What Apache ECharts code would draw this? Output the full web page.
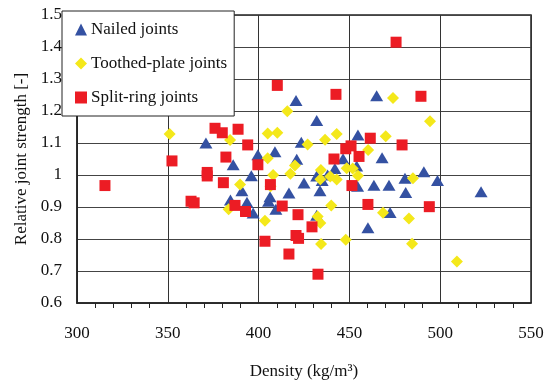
<!DOCTYPE html>
<html>
<head>
<meta charset="utf-8">
<script src="https://cdn.jsdelivr.net/npm/echarts@6/dist/echarts.min.js"></script>
<style>
  html, body { margin: 0; padding: 0; background: #fff; }
  #chart { width: 550px; height: 385px; }
</style>
</head>
<body>
<div id="chart"></div>
<script>
// density (kg/m3), relative joint strength [-]
var nailedPts = [
    [371, 1.10], [384.5, 0.922], [386, 1.032], [390.8, 0.951], [393.6, 0.915],
    [396, 0.998], [397, 0.881], [399.6, 1.063], [405.5, 0.918], [406.3, 0.932],
    [409, 1.073], [409.5, 0.893], [416.7, 0.944], [420.6, 1.233], [421, 1.049],
    [423.5, 1.102], [425, 0.975], [432, 1.170], [432, 0.997], [433.8, 0.951],
    [435, 0.983], [438, 1.000], [432, 0.874], [442, 1.02], [446.5, 1.051],
    [454.7, 1.125], [454, 1.028], [454.5, 0.965], [460.2, 0.835], [463.5, 0.968],
    [465, 1.248], [468, 1.054], [471.8, 0.968], [472.4, 0.883], [480.6, 0.990],
    [481, 0.945], [491, 1.010], [498.5, 0.983], [522.5, 0.948]
];
var toothedPts = [
    [351, 1.128], [383.5, 0.893], [384.3, 1.109], [389.8, 0.970], [403.5, 0.857],
    [405, 1.130], [405, 1.052], [406.6, 0.965], [408, 1.000], [410.3, 1.132],
    [415.8, 1.199], [417.5, 1.004], [420, 1.030], [427, 1.095], [432.5, 0.870],
    [434, 0.850], [434.4, 0.784], [434.3, 1.016], [434, 0.987], [436.6, 1.110],
    [439.5, 0.995], [440, 0.905], [443, 0.986], [443, 1.128], [448, 0.798],
    [448.5, 1.021], [451.8, 1.020], [454.7, 0.998], [460.3, 1.078], [468.5, 0.882],
    [470, 1.121], [474, 1.241], [482.8, 0.864], [484.5, 0.785], [485, 0.990],
    [494.4, 1.168], [509.2, 0.730]
];
var splitPts = [
    [315.4, 0.967], [352.3, 1.044], [362.8, 0.918], [364.5, 0.913], [371.7, 1.008],
    [371.7, 0.997], [376, 1.146], [380, 1.132], [388.7, 1.143], [394, 1.094],
    [382, 1.056], [380.6, 0.976], [387, 0.905], [392.8, 0.886], [399.6, 1.032],
    [403.5, 0.793], [406.5, 0.970], [410.3, 1.280], [413, 0.903], [416.7, 0.753],
    [420.6, 0.811], [422, 0.802], [421.7, 0.876], [429.4, 0.838], [432.7, 0.690],
    [441.5, 1.050], [442.6, 1.252], [448, 1.082], [450.9, 1.091], [451.4, 0.967],
    [455.3, 1.058], [460.2, 0.908], [461.5, 1.115], [475.7, 1.415], [479, 1.094],
    [489.4, 1.246], [494, 0.901]
];

var chartDom = document.getElementById('chart');
var myChart = echarts.init(chartDom);
var serif = '"Liberation Serif", "Times New Roman", serif';

var option = {
    animation: false,
    textStyle: { fontFamily: serif },
    grid: {
        left: 77,
        right: 19,
        top: 15,
        bottom: 78,
        show: true,
        borderColor: '#222',
        borderWidth: 1.5
    },
    legend: {
        orient: 'vertical',
        left: 62,
        top: 11,
        backgroundColor: '#fff',
        borderColor: '#222',
        borderWidth: 1,
        padding: [10, 7, 10, 13],
        itemGap: 17,
        itemWidth: 12,
        itemHeight: 12,
        textStyle: { fontFamily: serif, fontSize: 17, color: '#111', padding: [0, 0, 0, -1] },
        data: ['Nailed joints', 'Toothed-plate joints', 'Split-ring joints']
    },
    xAxis: {
        type: 'value',
        min: 300,
        max: 550,
        interval: 50,
        name: 'Density (kg/m³)',
        nameLocation: 'middle',
        nameGap: 60,
        nameTextStyle: { fontFamily: serif, fontSize: 17, color: '#111' },
        axisLine: { lineStyle: { color: '#222', width: 1.5 } },
        axisTick: { show: false },
        minorTick: { show: true, splitNumber: 5, length: 5, lineStyle: { color: '#222' } },
        axisLabel: { fontFamily: serif, fontSize: 17, color: '#111', margin: 22 },
        splitLine: { show: true, lineStyle: { color: '#333', width: 1 } }
    },
    yAxis: {
        type: 'value',
        min: 0.6,
        max: 1.5,
        interval: 0.1,
        name: 'Relative joint strength [-]',
        nameLocation: 'middle',
        nameGap: 45,
        nameTextStyle: { fontFamily: serif, fontSize: 17, color: '#111' },
        axisLine: { show: true, lineStyle: { color: '#222', width: 1.5 } },
        axisTick: { show: false },
        axisLabel: { fontFamily: serif, fontSize: 17, color: '#111', margin: 15 },
        splitLine: { show: true, lineStyle: { color: '#444', width: 1 } }
    },
    series: [{
        name: 'Nailed joints',
        type: 'scatter',
        symbol: 'triangle',
        symbolSize: [13, 11],
        itemStyle: { color: '#3451a2', opacity: 1 },
        data: nailedPts
    }, {
        name: 'Toothed-plate joints',
        type: 'scatter',
        symbol: 'diamond',
        symbolSize: 12,
        itemStyle: { color: '#f4e81a', opacity: 1 },
        data: toothedPts
    }, {
        name: 'Split-ring joints',
        type: 'scatter',
        symbol: 'rect',
        symbolSize: 11,
        itemStyle: { color: '#ec1c24', opacity: 1 },
        data: splitPts
    }]
};

myChart.setOption(option);
</script>
</body>
</html>
